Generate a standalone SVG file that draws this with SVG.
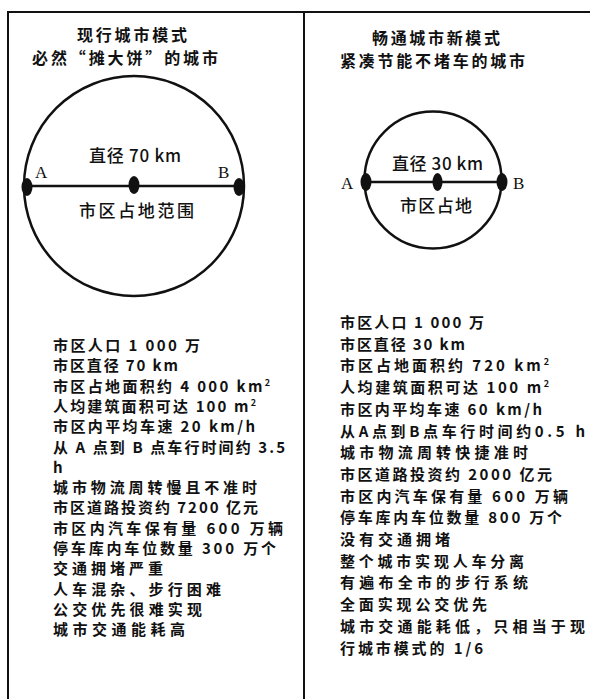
<svg xmlns="http://www.w3.org/2000/svg" width="590" height="699" viewBox="0 0 590 699">
<style>
.frame{stroke:#111;stroke-width:2;fill:none}
.circ{stroke:#111;stroke-width:2.5;fill:none}
.dot{fill:#111}
.dia{stroke:#111;stroke-width:2.5}
.title{font-family:"Noto Sans CJK SC","Noto Sans CJK TC",sans-serif;font-size:16px;font-weight:700;fill:#111}
.lbl{font-family:"Noto Sans CJK SC",sans-serif;font-size:17px;font-weight:500;fill:#111}
.ab{font-family:"Liberation Serif",serif;font-size:17px;fill:#111}
.li{font-family:"Noto Sans CJK SC",sans-serif;font-size:15px;font-weight:700;fill:#111}
.sup{font-size:9px}
</style>
<rect x="0" y="0" width="590" height="699" fill="#fff"/>
<g id="frame">
<line class="frame" x1="8" y1="12" x2="590" y2="12"/>
<line class="frame" x1="8" y1="11" x2="8" y2="699"/>
<line class="frame" x1="304" y1="12" x2="304" y2="699"/>
</g>
<g id="left-title">
<text class="title" x="77" y="41" textLength="110" lengthAdjust="spacing">现行城市模式</text>
<text class="title" x="32" y="64" textLength="186" lengthAdjust="spacing">必然“摊大饼”的城市</text>
</g>
<g id="right-title">
<text class="title" x="372" y="44" textLength="128" lengthAdjust="spacing">畅通城市新模式</text>
<text class="title" x="340" y="67" textLength="185" lengthAdjust="spacing">紧凑节能不堵车的城市</text>
</g>
<g id="connectors">
<line class="dia" x1="27" y1="186" x2="241" y2="186"/>
<line class="dia" x1="366" y1="182" x2="502" y2="182"/>
</g>
<g id="left-circle">
<circle class="circ" cx="134" cy="186" r="110"/>
<ellipse class="dot" cx="27" cy="187" rx="5.5" ry="9"/>
<ellipse class="dot" cx="134" cy="185" rx="5.5" ry="9"/>
<ellipse class="dot" cx="239" cy="187" rx="5.5" ry="9"/>
<text class="ab" x="35" y="178">A</text>
<text class="ab" x="218" y="178">B</text>
<text class="lbl" x="89" y="162" textLength="92" lengthAdjust="spacing">直径 70 km</text>
<text class="lbl" x="79" y="217" textLength="115" lengthAdjust="spacing">市区占地范围</text>
</g>
<g id="right-circle">
<circle class="circ" cx="433" cy="180" r="68.5"/>
<ellipse class="dot" cx="366" cy="182" rx="5.5" ry="9"/>
<ellipse class="dot" cx="437.5" cy="182" rx="5" ry="9"/>
<ellipse class="dot" cx="502" cy="182" rx="5.5" ry="9"/>
<text class="ab" x="341" y="189">A</text>
<text class="ab" x="513" y="189">B</text>
<text class="lbl" x="392" y="170" textLength="91" lengthAdjust="spacing">直径 30 km</text>
<text class="lbl" x="400" y="212" textLength="72" lengthAdjust="spacing">市区占地</text>
</g>
<g id="left-list">
<text class="li" x="53" y="351" textLength="147" lengthAdjust="spacing">市区人口 1 000 万</text>
<text class="li" x="53" y="371.3" textLength="125" lengthAdjust="spacing">市区直径 70 km</text>
<text class="li" x="53" y="391.6" textLength="217" lengthAdjust="spacing">市区占地面积约 4 000 km<tspan class="sup" dy="-6">2</tspan></text>
<text class="li" x="53" y="411.9" textLength="203" lengthAdjust="spacing">人均建筑面积可达 100 m<tspan class="sup" dy="-6">2</tspan></text>
<text class="li" x="53" y="432.2" textLength="202" lengthAdjust="spacing">市区内平均车速 20 km/h</text>
<text class="li" x="53" y="452.5" textLength="232" lengthAdjust="spacing">从 A 点到 B 点车行时间约 3.5</text>
<text class="li" x="53" y="472.8">h</text>
<text class="li" x="53" y="493.1" textLength="204" lengthAdjust="spacing">城市物流周转慢且不准时</text>
<text class="li" x="53" y="513.4" textLength="205" lengthAdjust="spacing">市区道路投资约 7200 亿元</text>
<text class="li" x="53" y="533.7" textLength="230" lengthAdjust="spacing">市区内汽车保有量 600 万辆</text>
<text class="li" x="53" y="554" textLength="223" lengthAdjust="spacing">停车库内车位数量 300 万个</text>
<text class="li" x="53" y="574.3" textLength="110" lengthAdjust="spacing">交通拥堵严重</text>
<text class="li" x="53" y="594.6" textLength="168" lengthAdjust="spacing">人车混杂、步行困难</text>
<text class="li" x="53" y="614.9" textLength="149" lengthAdjust="spacing">公交优先很难实现</text>
<text class="li" x="53" y="635.2" textLength="132" lengthAdjust="spacing">城市交通能耗高</text>
</g>
<g id="right-list">
<text class="li" x="340" y="328" textLength="144" lengthAdjust="spacing">市区人口 1 000 万</text>
<text class="li" x="340" y="349.7" textLength="125" lengthAdjust="spacing">市区直径 30 km</text>
<text class="li" x="340" y="371.4" textLength="209" lengthAdjust="spacing">市区占地面积约 720 km<tspan class="sup" dy="-6">2</tspan></text>
<text class="li" x="340" y="393.1" textLength="209" lengthAdjust="spacing">人均建筑面积可达 100 m<tspan class="sup" dy="-6">2</tspan></text>
<text class="li" x="340" y="414.8" textLength="202" lengthAdjust="spacing">市区内平均车速 60 km/h</text>
<text class="li" x="340" y="436.5" textLength="245" lengthAdjust="spacing">从A点到B点车行时间约0.5 h</text>
<text class="li" x="340" y="458.2" textLength="188" lengthAdjust="spacing">城市物流周转快捷准时</text>
<text class="li" x="340" y="479.9" textLength="212" lengthAdjust="spacing">市区道路投资约 2000 亿元</text>
<text class="li" x="340" y="501.6" textLength="228" lengthAdjust="spacing">市区内汽车保有量 600 万辆</text>
<text class="li" x="340" y="523.3" textLength="222" lengthAdjust="spacing">停车库内车位数量 800 万个</text>
<text class="li" x="340" y="545" textLength="110" lengthAdjust="spacing">没有交通拥堵</text>
<text class="li" x="340" y="566.7" textLength="184" lengthAdjust="spacing">整个城市实现人车分离</text>
<text class="li" x="340" y="588.4" textLength="188" lengthAdjust="spacing">有遍布全市的步行系统</text>
<text class="li" x="340" y="610.1" textLength="147" lengthAdjust="spacing">全面实现公交优先</text>
<text class="li" x="340" y="631.8" textLength="245" lengthAdjust="spacing">城市交通能耗低，只相当于现</text>
<text class="li" x="340" y="653.5" textLength="143" lengthAdjust="spacing">行城市模式的 1/6</text>
</g>
</svg>
